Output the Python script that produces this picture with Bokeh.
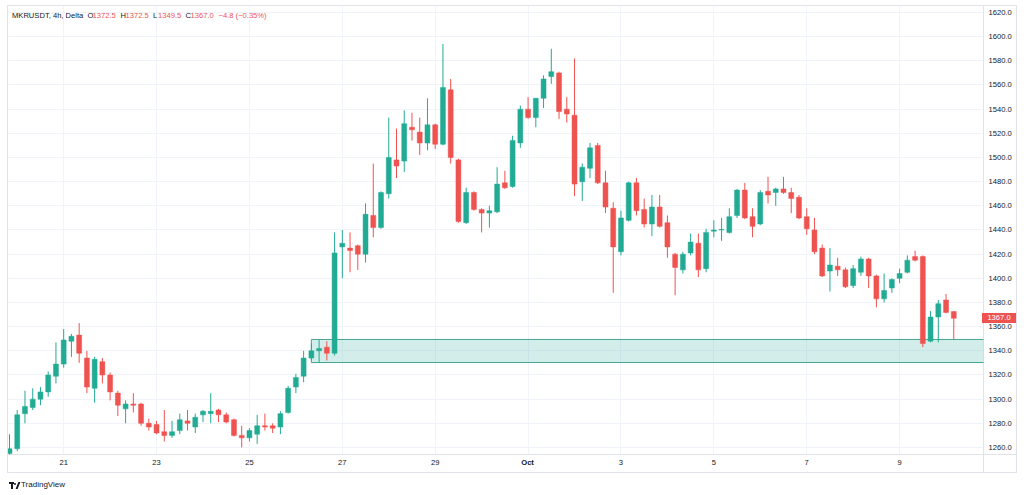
import pandas as pd
from bokeh.plotting import figure
from bokeh.models import (FixedTicker, PrintfTickFormatter, Label, ColumnDataSource,
                          Range1d, Div)
from bokeh.layouts import column
from bokeh.embed import file_html
from bokeh.resources import INLINE

# ---------------- data ----------------
symbol = "MKRUSDT, 4h, Delta"
start_time = "2023-09-19 20:00"
bar_hours = 4

opens = [1255, 1259, 1288, 1293, 1300, 1306, 1319, 1329, 1348, 1353,
         1334, 1309, 1331, 1320, 1305, 1292, 1296, 1296, 1280, 1279,
         1273, 1270, 1274, 1282, 1277, 1287, 1288, 1291, 1287, 1283,
         1270, 1268, 1271, 1278, 1278, 1277, 1289, 1310, 1319, 1334,
         1340, 1343, 1338, 1426, 1425, 1427, 1420, 1452, 1442, 1470,
         1498, 1497, 1525, 1521, 1512, 1527, 1511, 1556, 1498, 1446,
         1471, 1457, 1454, 1455, 1479, 1476, 1512, 1540, 1533, 1549,
         1567, 1570, 1540, 1535, 1480, 1491, 1510, 1479, 1458, 1422,
         1448, 1479, 1457, 1445, 1459, 1446, 1420, 1407, 1421, 1429,
         1408, 1439, 1440, 1438, 1452, 1473, 1451, 1445, 1472, 1471,
         1474, 1471, 1467, 1451, 1440, 1425, 1406, 1410, 1407, 1394,
         1405, 1416, 1402, 1383, 1392, 1400, 1405, 1418, 1418, 1348,
         1368, 1382, 1372.5]
highs = [1271, 1291, 1307, 1309, 1310, 1323, 1347, 1358, 1354, 1363,
         1340, 1335, 1334, 1322, 1307, 1299, 1305, 1297, 1284, 1282,
         1291, 1282, 1288, 1291, 1288, 1291, 1305, 1292, 1289, 1284,
         1278, 1276, 1287, 1288, 1280, 1290, 1311, 1321, 1340, 1346,
         1349, 1348, 1438, 1440, 1438, 1428, 1462, 1495, 1472, 1533,
         1524, 1539, 1537, 1533, 1549, 1528, 1594, 1565, 1499, 1475,
         1472, 1458, 1460, 1492, 1489, 1518, 1543, 1550, 1549, 1568,
         1590, 1571, 1550, 1582, 1495, 1512, 1512, 1489, 1463, 1456,
         1480, 1483, 1466, 1469, 1469, 1452, 1421, 1422, 1437, 1437,
         1441, 1448, 1450, 1458, 1474, 1479, 1458, 1473, 1484, 1475,
         1484, 1475, 1469, 1458, 1450, 1428, 1425, 1417, 1409, 1411,
         1418, 1417, 1403, 1404, 1400, 1408, 1419, 1423, 1419, 1373,
         1382, 1387, 1372.5]
lows = [1254, 1257, 1280, 1291, 1295, 1302, 1313, 1326, 1335, 1330,
        1305, 1297, 1313, 1299, 1286, 1280, 1289, 1278, 1274, 1271,
        1265, 1268, 1271, 1274, 1272, 1281, 1280, 1281, 1280, 1269,
        1260, 1265, 1263, 1274, 1272, 1271, 1288, 1305, 1314, 1332,
        1330, 1332, 1336, 1400, 1405, 1407, 1413, 1434, 1441, 1466,
        1483, 1488, 1514, 1502, 1506, 1507, 1510, 1495, 1446, 1445,
        1456, 1438, 1442, 1454, 1474, 1475, 1508, 1532, 1525, 1541,
        1561, 1532, 1529, 1468, 1464, 1483, 1478, 1454, 1388, 1419,
        1447, 1452, 1442, 1435, 1442, 1417, 1386, 1404, 1419, 1401,
        1405, 1434, 1431, 1437, 1450, 1449, 1434, 1444, 1462, 1460,
        1470, 1454, 1449, 1436, 1420, 1401, 1389, 1402, 1392, 1392,
        1402, 1392, 1376, 1380, 1388, 1396, 1404, 1414, 1343, 1347,
        1347, 1371, 1349.5]
closes = [1259, 1287, 1294, 1300, 1306, 1320, 1329, 1349, 1352, 1338,
          1310, 1333, 1320, 1306, 1295, 1296, 1295, 1280, 1277, 1272,
          1270, 1273, 1283, 1280, 1285, 1290, 1290, 1287, 1281, 1270,
          1268, 1274, 1278, 1277, 1276, 1288, 1309, 1318, 1334, 1340,
          1342, 1338, 1421, 1429, 1423, 1420, 1453, 1442, 1471, 1500,
          1493, 1528, 1523, 1512, 1527, 1511, 1558, 1500, 1447, 1471,
          1457, 1454, 1456, 1478, 1475, 1514, 1540, 1533, 1549, 1565,
          1571, 1538, 1536, 1478, 1492, 1508, 1479, 1459, 1426, 1450,
          1479, 1456, 1445, 1459, 1443, 1426, 1409, 1420, 1430, 1407,
          1438, 1440, 1440.5, 1451, 1473, 1450, 1443, 1471, 1469, 1474,
          1471, 1466, 1450, 1441, 1422, 1402, 1411, 1407, 1393, 1408,
          1416, 1402, 1383, 1390, 1399, 1404, 1415, 1415, 1346, 1368,
          1379, 1371.8, 1367.0]

tick_dates = ["2023-09-21", "2023-09-23", "2023-09-25", "2023-09-27", "2023-09-29",
              "2023-10-01", "2023-10-03", "2023-10-05", "2023-10-07", "2023-10-09"]
tick_labels = ["21", "23", "25", "27", "29", "Oct", "3", "5", "7", "9"]
bold_tick = "Oct"
price_ticks = [1260, 1280, 1300, 1320, 1340, 1360, 1380, 1400, 1420, 1440,
               1460, 1480, 1500, 1520, 1540, 1560, 1580, 1600, 1620]

zone_start = "2023-09-26 08:00"
zone_top = 1349.4
zone_bottom = 1330.3

footer_text = "TradingView"

# ---------------- styles ----------------
UP = "#22ab94"
DOWN = "#ef5350"
TEXT = "#131722"
GRID = "#f0f3fa"
BORDER = "#e0e3eb"
FONT = "Liberation Sans"
FS = "7.6px"

W, H = 1024, 495
FL, FT, FR, FB = 7, 5, 983, 454          # frame edges on the page
PANEL_R, PANEL_B = 1016, 472             # outer edges of the price / time scales
FRAME_W, FRAME_H = FR - FL, FB - FT
PX_PER_BAR = 7.74
FIRST_BAR_X = 9
PRICE_TOP, PRICE_TOP_Y, PX_PER_UNIT = 1620, 12, 1.2083

t0 = pd.Timestamp(start_time)
step = pd.Timedelta(hours=bar_hours)
n = len(closes)
xs = list(range(n))
colors = [UP if c >= o else DOWN for o, c in zip(opens, closes)]
src = ColumnDataSource(dict(
    x=xs, o=opens, h=highs, l=lows, c=closes, color=colors,
    top=[max(o, c) for o, c in zip(opens, closes)],
    bottom=[min(o, c) for o, c in zip(opens, closes)],
))

def to_index(ts):
    return (pd.Timestamp(ts) - t0) / step

tick_pos = [to_index(d) for d in tick_dates]

x0 = (FL - FIRST_BAR_X) / PX_PER_BAR
x1 = (FR - FIRST_BAR_X) / PX_PER_BAR
y1 = PRICE_TOP + (PRICE_TOP_Y - FT) / PX_PER_UNIT
y0 = PRICE_TOP - (FB - PRICE_TOP_Y) / PX_PER_UNIT

def page_y(price):
    return PRICE_TOP_Y + (PRICE_TOP - price) * PX_PER_UNIT

def page_x(idx):
    return FIRST_BAR_X + idx * PX_PER_BAR

p = figure(width=W, height=H, output_backend="svg", toolbar_location=None,
           x_range=Range1d(x0, x1), y_range=Range1d(y0, y1),
           y_axis_location="right", min_border_left=FL, min_border_top=FT,
           min_border_right=W - FR, min_border_bottom=H - FB)
p.background_fill_color = "white"
p.border_fill_color = "white"
p.outline_line_color = BORDER

# zone
p.quad(left=[to_index(zone_start)], right=[n + 20], top=[zone_top], bottom=[zone_bottom],
       fill_color=UP, fill_alpha=0.2, line_color="#45a58f", line_width=1)

# candles
p.segment(x0="x", y0="h", x1="x", y1="l", color="color", line_width=1, source=src)
p.vbar(x="x", width=0.64, top="top", bottom="bottom", fill_color="color",
       line_color="color", line_width=0.5, source=src)

# axes
ya = p.yaxis[0]
ya.ticker = FixedTicker(ticks=price_ticks)
ya.formatter = PrintfTickFormatter(format="%.1f")
xa = p.xaxis[0]
xa.ticker = FixedTicker(ticks=tick_pos)
xa.major_label_overrides = {pos: ("" if lab == bold_tick else lab)
                            for pos, lab in zip(tick_pos, tick_labels)}
for ax in (xa, ya):
    ax.axis_line_color = None
    ax.major_tick_line_color = None
    ax.minor_tick_line_color = None
    ax.major_tick_out = 0
    ax.major_tick_in = 0
    ax.minor_tick_out = 0
    ax.major_label_text_font = FONT
    ax.major_label_text_font_size = FS
    ax.major_label_text_color = TEXT
    ax.major_label_standoff = 5
p.xgrid.grid_line_color = GRID
p.ygrid.grid_line_color = GRID

# header legend
last_o, last_h, last_l, last_c = opens[-1], highs[-1], lows[-1], closes[-1]
chg = last_c - closes[-2]
pct = chg / closes[-2] * 100
def fmt_signed(v, suffix=""):
    s = f"{abs(v):.2f}" if suffix else f"{abs(v):.1f}"
    return ("\u2212" if v < 0 else "+") + s + suffix
val_color = DOWN if last_c < last_o else UP
pieces = [
    (4.5, symbol, TEXT),
    (80, "O", TEXT), (85, f"{last_o:.1f}", val_color),
    (113, "H", TEXT), (118, f"{last_h:.1f}", val_color),
    (145.5, "L", TEXT), (150.5, f"{last_l:.1f}", val_color),
    (178, "C", TEXT), (183, f"{last_c:.1f}", val_color),
    (211, f"{fmt_signed(chg)} ({fmt_signed(pct, '%')})", val_color),
]
for x, txt, col in pieces:
    p.add_layout(Label(x=x, y=FRAME_H - 10, x_units="screen", y_units="screen", text=txt,
                       text_align="left", text_baseline="middle", text_font=FONT,
                       text_font_size=FS, text_color=col))

# overlays outside the plot frame (price tag, bold month, panel borders, footer)
def abs_div(text, left, top, width, height, extra):
    st = {"position": "absolute", "left": f"{left}px", "top": f"{top}px",
          "width": f"{width}px", "height": f"{height}px", "margin": "0", "padding": "0",
          "pointer-events": "none", "box-sizing": "border-box"}
    st.update(extra)
    return Div(text=text, styles=st)

tag_y = page_y(last_c)
oct_x = page_x(tick_pos[tick_labels.index(bold_tick)])
overlays = [
    abs_div(f"{last_c:.1f}", FR - 1, tag_y - 5, PANEL_R - FR + 1, 10,
            {"background-color": DOWN, "color": "white", "font-family": FONT,
             "font-size": FS, "line-height": "10px", "text-align": "center"}),
    abs_div(bold_tick, oct_x - 15, FB + 4, 30, 10,
            {"color": TEXT, "font-family": FONT, "font-size": FS, "font-weight": "bold",
             "line-height": "10px", "text-align": "center"}),
    abs_div("", FL, FT, PANEL_R - FL + 1, PANEL_B - FT + 1, {"border": f"1px solid {BORDER}"}),
    abs_div("", FR, FB, PANEL_R - FR + 1, 1, {"border-top": f"1px solid {BORDER}"}),
    abs_div("", FR, FB, 1, PANEL_B - FB + 1, {"border-left": f"1px solid {BORDER}"}),
    # footer: small TradingView mark + name
    abs_div("", 9, 482, 5, 2, {"background-color": TEXT}),
    abs_div("", 11, 482, 2, 7, {"background-color": TEXT}),
    abs_div("", 14, 483, 2, 2, {"background-color": TEXT, "border-radius": "50%"}),
    abs_div("", 17, 482, 2, 7, {"background-color": TEXT, "transform": "skewX(-22deg)"}),
    abs_div(footer_text, 21, 480, 60, 10,
            {"color": TEXT, "font-family": FONT, "font-size": "8px", "line-height": "10px"}),
]

layout = column(p, *overlays, spacing=0)
open("out.html", "w").write(file_html(layout, INLINE))
